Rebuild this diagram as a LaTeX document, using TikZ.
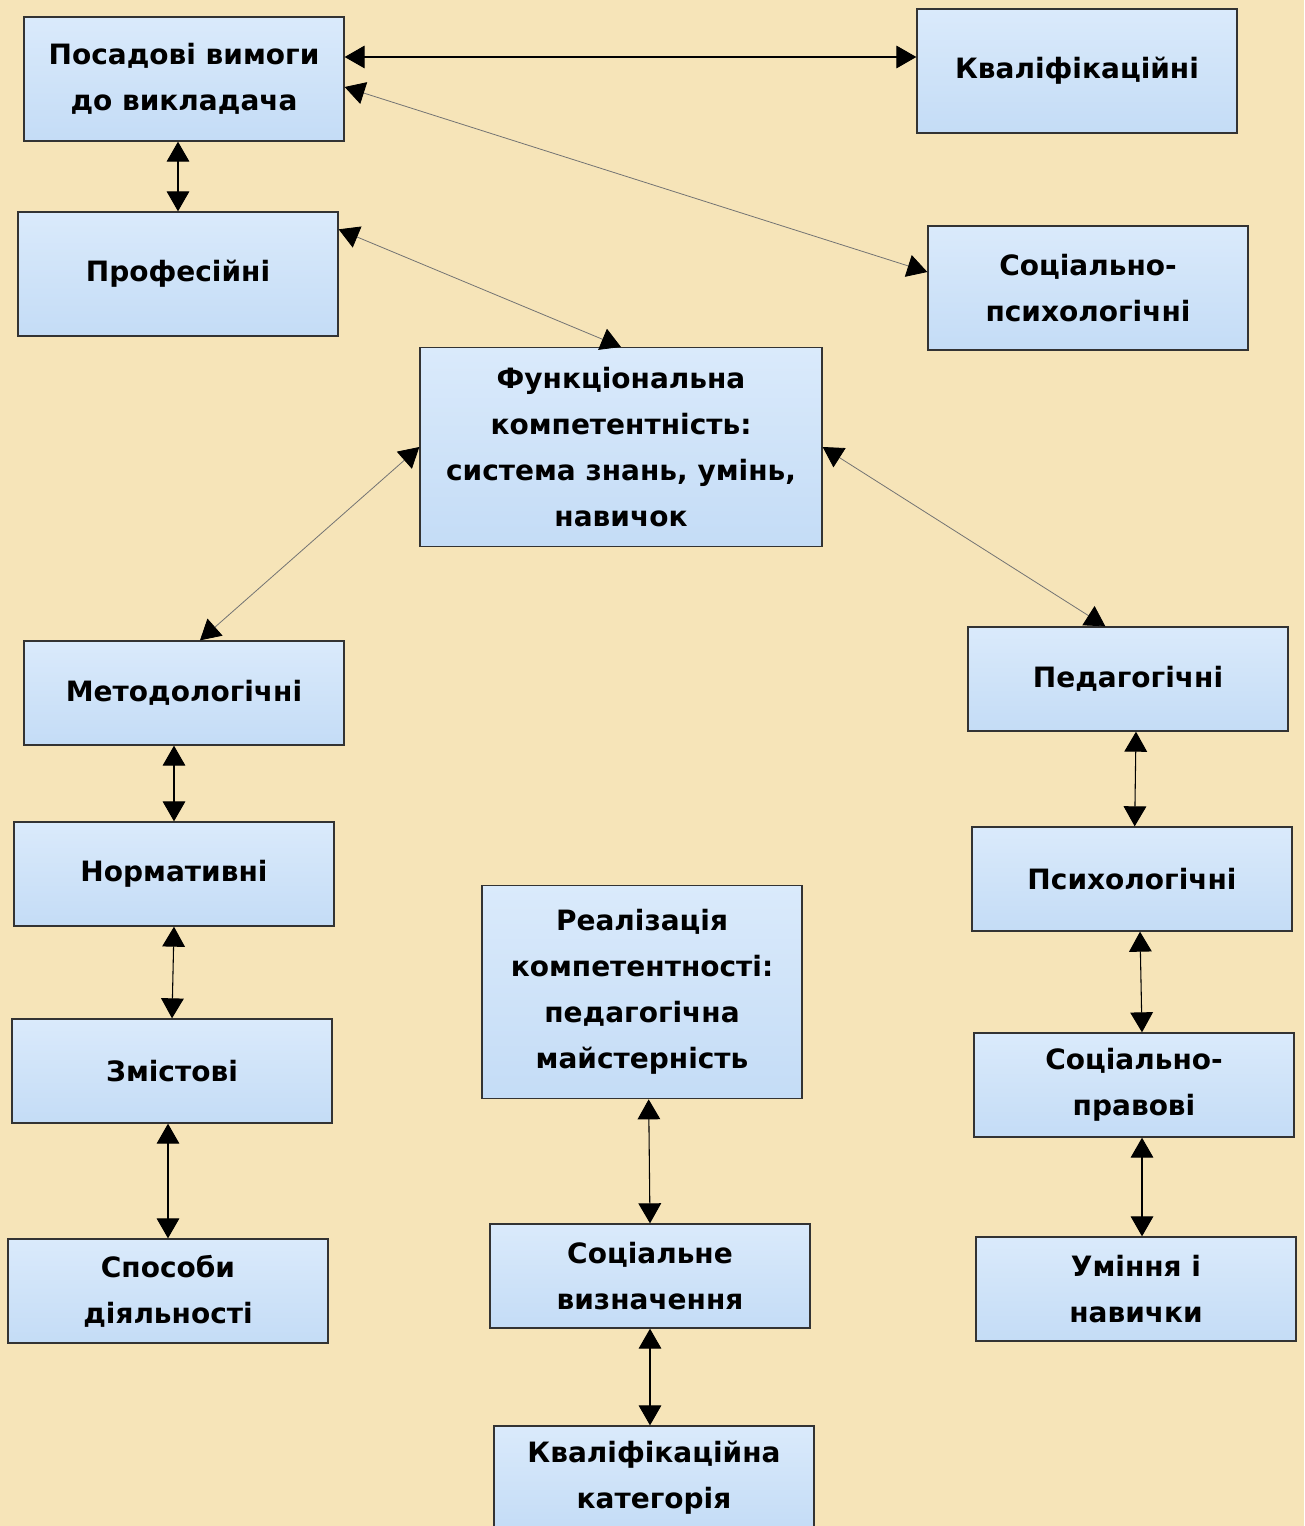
\documentclass[tikz,border=0pt]{standalone}
\usepackage{fontspec}
\setmainfont{DejaVu Sans}
\usetikzlibrary{arrows.meta}

\definecolor{bgtan}{RGB}{246,228,184}
\definecolor{boxtop}{RGB}{218,234,251}
\definecolor{boxbot}{RGB}{196,220,246}

\begin{document}
\begin{tikzpicture}[x=0.75pt,y=-0.75pt,
  box/.style={draw=black!80,line width=1pt,top color=boxtop,bottom color=boxbot,
    minimum width=240pt,minimum height=78pt,align=center,inner sep=2pt,
    font=\bfseries\fontsize{21}{34.5}\selectfont},
  tallbox/.style={box,minimum height=93pt},
  link/.style={{Triangle[length=15pt,width=17pt,color=black]}-{Triangle[length=15pt,width=17pt,color=black]},
    line width=0.8pt},
  slant/.style={link,draw=black!55,line width=0.6pt}]

\fill[bgtan] (0,0) rectangle (1304,1526);
\useasboundingbox (0,0) rectangle (1304,1526);

% top row
\node[tallbox] (posad) at (184,79) {Посадові вимоги\\до викладача};
\node[tallbox] (kval) at (1077,71) {Кваліфікаційні};
\node[tallbox] (prof) at (178,274) {Професійні};
\node[tallbox] (socpsy) at (1088,288) {Соціально-\\психологічні};

\node[box,minimum width=301.5pt,minimum height=149pt] (func) at (621,447)
  {Функціональна\\компетентність:\\система знань, умінь,\\навичок};

% left column
\node[box] (metod) at (184,693) {Методологічні};
\node[box] (norm) at (174,874) {Нормативні};
\node[box] (zmist) at (172,1071) {Змістові};
\node[box] (sposob) at (168,1291) {Способи\\діяльності};

% right column
\node[box] (ped) at (1128,679) {Педагогічні};
\node[box] (psy) at (1132,879) {Психологічні};
\node[box] (socprav) at (1134,1085) {Соціально-\\правові};
\node[box] (umin) at (1136,1289) {Уміння і\\навички};

% middle column
\node[box,minimum height=160pt] (real) at (642,992)
  {Реалізація\\компетентності:\\педагогічна\\майстерність};
\node[box] (socvyz) at (650,1276) {Соціальне\\визначення};
\node[box] (kvalkat) at (654,1478) {Кваліфікаційна\\категорія};

\draw[link] ([yshift=16.5pt]posad.east) -- ([yshift=16.5pt]posad.east -| kval.west);
\draw[slant] ([yshift=-6pt]posad.east) -- ([yshift=12pt]socpsy.west);
\draw[link] (posad.south -| prof.north) -- (prof.north);
\draw[slant] ([yshift=-13.5pt]prof.north east) -- (func.north);
\draw[slant] (func.west) -- ([xshift=12pt]metod.north);
\draw[slant] (func.east) -- ([xshift=-17pt]ped.north);

\draw[link] (metod.south -| norm.north) -- (norm.north);
\draw[link] (norm.south) -- (zmist.north);
\draw[link] (zmist.south -| sposob.north) -- (sposob.north);

\draw[link] ([xshift=6pt]ped.south) -- ([xshift=2pt]psy.north);
\draw[link] ([xshift=6pt]psy.south) -- ([xshift=6pt]socprav.north);
\draw[link] ([xshift=6pt]socprav.south) -- ([xshift=4.5pt]umin.north);

\draw[link] ([xshift=5pt]real.south) -- (socvyz.north);
\draw[link] (socvyz.south) -- (socvyz.south |- kvalkat.north);

\end{tikzpicture}
\end{document}
